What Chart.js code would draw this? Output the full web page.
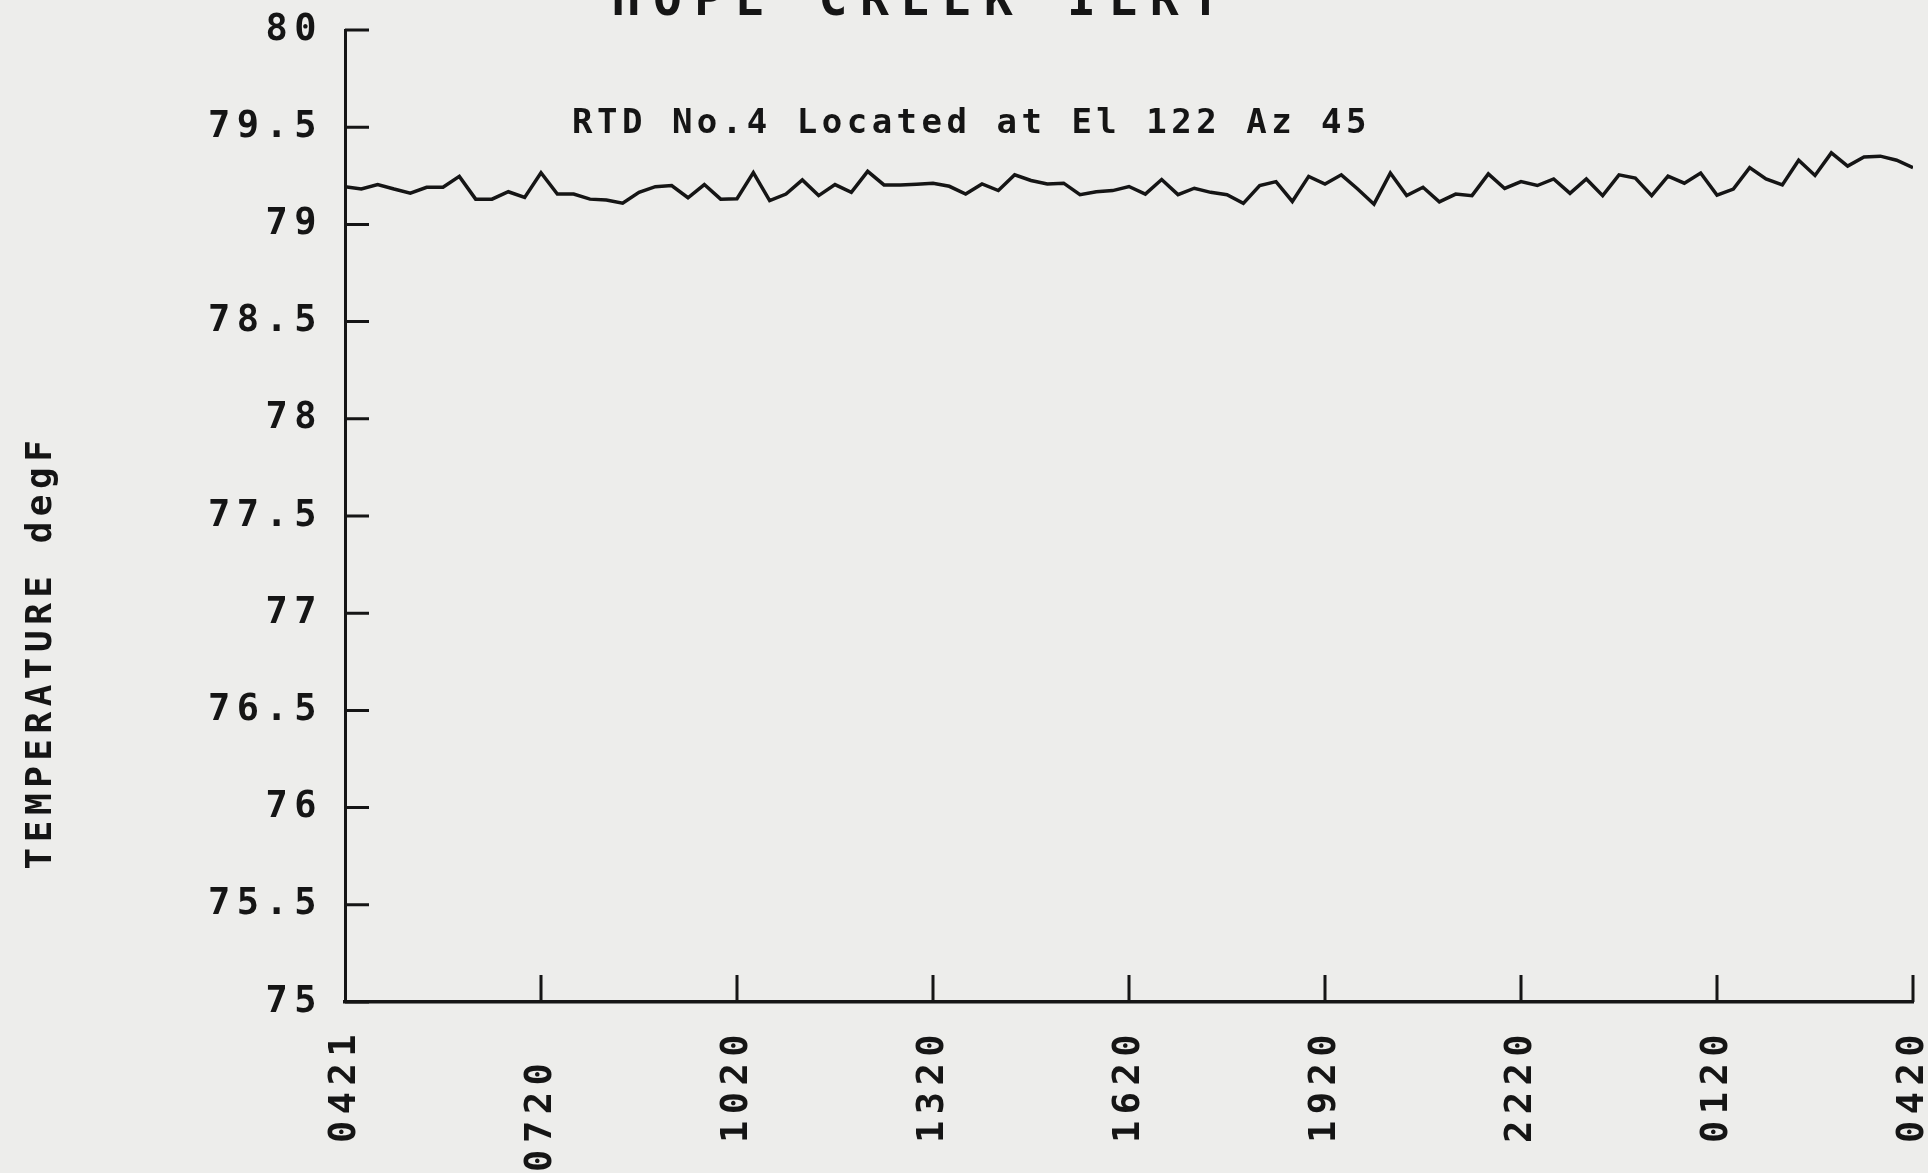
<!DOCTYPE html>
<html>
<head>
<meta charset="utf-8">
<script src="https://cdn.jsdelivr.net/npm/chart.js@4.4.1/dist/chart.umd.min.js"></script>
<style>
  html, body { margin: 0; padding: 0; background: #ededeb; overflow: hidden; }
  #wrap { position: absolute; left: 0; top: 0; width: 1928px; height: 1173px; }
</style>
</head>
<body>
<div id="wrap"><canvas id="c" width="1928" height="1173"></canvas></div>
<script>
// ---- data ----
const chartTitle = 'HOPE CREEK ILRT';
const chartSubtitle = 'RTD No.4 Located at El 122 Az 45';
const yAxisTitle = 'TEMPERATURE degF';
// hours elapsed since 04:21 at each 3-hour tick, and the printed clock labels
const tickHours = [0, 3, 6, 9, 12, 15, 18, 21, 24];
const tickLabels = ['0421', '0720 ', '1020', '1320', '1620', '1920', '2220', '0120', '0420'];
// readings every 15 minutes (0.25 h) from 0421 to 0420
const stepHours = 0.25;
const temperatures = [
  79.194, 79.182, 79.205, 79.182, 79.161, 79.191, 79.191, 79.247, 79.130, 79.130,
  79.168, 79.139, 79.266, 79.156, 79.156, 79.130, 79.125, 79.109, 79.165, 79.194,
  79.200, 79.137, 79.205, 79.130, 79.132, 79.266, 79.122, 79.156, 79.229, 79.148,
  79.205, 79.165, 79.273, 79.203, 79.203, 79.207, 79.212, 79.196, 79.156, 79.208,
  79.174, 79.255, 79.226, 79.208, 79.212, 79.153, 79.168, 79.174, 79.195, 79.156,
  79.231, 79.153, 79.186, 79.165, 79.153, 79.108, 79.200, 79.220, 79.118, 79.247,
  79.208, 79.255, 79.182, 79.104, 79.264, 79.148, 79.191, 79.116, 79.156, 79.148,
  79.260, 79.185, 79.220, 79.200, 79.234, 79.160, 79.234, 79.148, 79.255, 79.238,
  79.148, 79.248, 79.212, 79.264, 79.151, 79.182, 79.292, 79.234, 79.203, 79.330,
  79.252, 79.368, 79.300, 79.347, 79.351, 79.330, 79.292
];
const yMin = 75, yMax = 80, yStep = 0.5;

// ---- styling ----
const INK = '#151515';
const FONT = '"DejaVu Sans Mono", "Liberation Mono", monospace';

const points = temperatures.map((v, i) => ({ x: i * stepHours, y: v }));

const spacing = {
  id: 'spacing',
  beforeUpdate(chart) { chart.ctx.letterSpacing = '6.5px'; },
  beforeDraw(chart) { chart.ctx.letterSpacing = '6.5px'; }
};

const decorations = {
  id: 'decorations',
  afterDraw(chart) {
    const { ctx, chartArea, scales } = chart;
    const x = scales.x, y = scales.y;
    ctx.save();
    ctx.strokeStyle = INK;
    ctx.lineWidth = 3;
    ctx.beginPath();
    y.ticks.forEach(t => {
      const py = y.getPixelForValue(t.value);
      ctx.moveTo(chartArea.left, py);
      ctx.lineTo(chartArea.left + 24, py);
    });
    x.ticks.forEach(t => {
      if (t.value === tickHours[0]) return;
      const px = x.getPixelForValue(t.value);
      ctx.moveTo(px, chartArea.bottom);
      ctx.lineTo(px, chartArea.bottom - 27);
    });
    ctx.stroke();

    ctx.fillStyle = INK;
    ctx.textBaseline = 'alphabetic';
    // title (partly cut off by the page top, as in the scan)
    ctx.letterSpacing = '12.5px';
    ctx.font = 'bold 48px ' + FONT;
    ctx.textAlign = 'center';
    ctx.fillText(chartTitle, 922, 15);
    // subtitle
    ctx.letterSpacing = '4.5px';
    ctx.font = 'bold 34px ' + FONT;
    ctx.textAlign = 'left';
    ctx.fillText(chartSubtitle, 572, 133);
    // y-axis title
    ctx.save();
    ctx.translate(42, 652);
    ctx.rotate(-Math.PI / 2);
    ctx.letterSpacing = '5.5px';
    ctx.font = 'bold 36px ' + FONT;
    ctx.textAlign = 'center';
    ctx.textBaseline = 'middle';
    ctx.fillText(yAxisTitle, 0, 0);
    ctx.restore();
    ctx.restore();
  }
};

new Chart(document.getElementById('c'), {
  type: 'line',
  data: {
    datasets: [{
      data: points,
      borderColor: INK,
      borderWidth: 3.5,
      pointRadius: 0,
      tension: 0,
      fill: false
    }]
  },
  options: {
    responsive: false,
    animation: false,
    devicePixelRatio: 1,
    layout: { padding: { top: 30, right: 15, left: 0, bottom: 0 } },
    plugins: { legend: { display: false }, tooltip: { enabled: false }, title: { display: false } },
    scales: {
      x: {
        type: 'linear',
        min: tickHours[0],
        max: tickHours[tickHours.length - 1],
        afterBuildTicks(scale) { scale.ticks = tickHours.map(v => ({ value: v })); },
        afterFit(scale) { scale.height = 171; scale.paddingLeft = 0; scale.paddingRight = 0; },
        grid: { display: false, drawTicks: false },
        border: { display: true, color: INK, width: 3.5 },
        ticks: {
          autoSkip: false,
          minRotation: 90,
          maxRotation: 90,
          padding: 26,
          color: INK,
          font: { family: FONT, size: 37, weight: 'bold' },
          callback: (v) => tickLabels[tickHours.indexOf(v)]
        }
      },
      y: {
        min: yMin,
        max: yMax,
        afterFit(scale) { scale.width = 345; scale.paddingTop = 0; scale.paddingBottom = 0; },
        grid: { display: false, drawTicks: false },
        border: { display: true, color: INK, width: 3 },
        ticks: {
          stepSize: yStep,
          padding: 22,
          color: INK,
          font: { family: FONT, size: 37, weight: 'bold' },
          callback: (v) => String(Math.round(v * 10) / 10)
        }
      }
    }
  },
  plugins: [spacing, decorations]
});
</script>
</body>
</html>
